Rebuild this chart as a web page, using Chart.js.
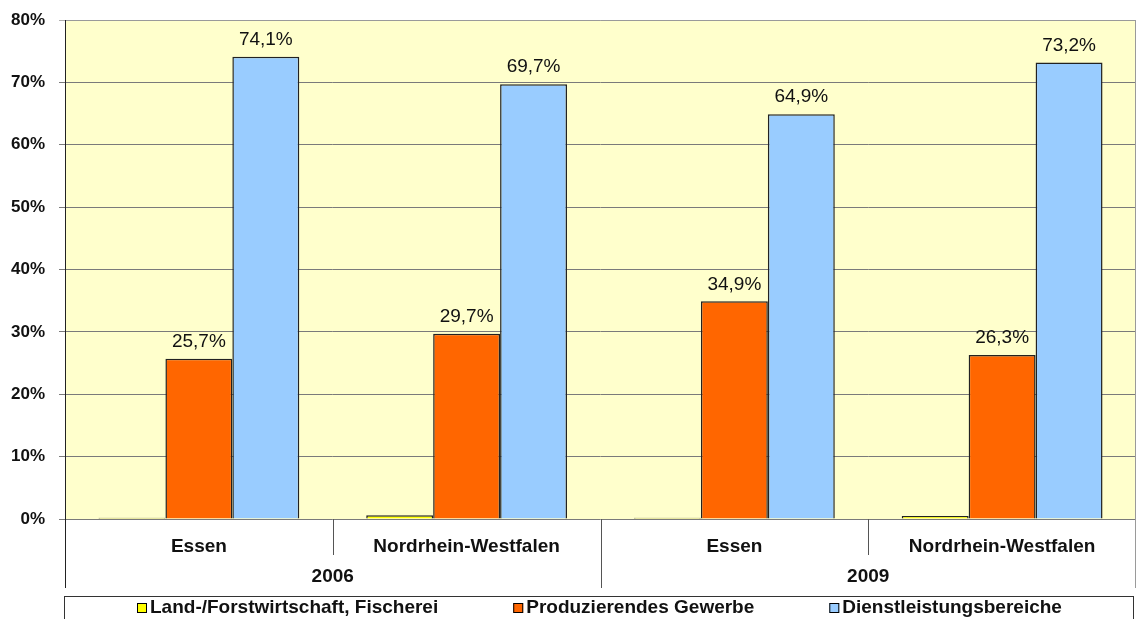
<!DOCTYPE html>
<html>
<head>
<meta charset="utf-8">
<script src="https://cdn.jsdelivr.net/npm/chart.js@4.4.1/dist/chart.umd.min.js"></script>
<style>
  html, body { margin: 0; padding: 0; background: #fff; overflow: hidden; }
  #wrap { width: 1138px; height: 619px; }
</style>
</head>
<body>
<div id="wrap"><canvas id="chart"></canvas></div>
<script>
// Erwerbstätige nach Wirtschaftsbereichen
var regions = ['Essen', 'Nordrhein-Westfalen', 'Essen', 'Nordrhein-Westfalen'];
var years = ['2006', '2009'];
var landwirtschaft = [0.2, 0.6, 0.2, 0.5];
var gewerbe = [25.7, 29.7, 34.9, 26.3];
var dienstleistung = [74.1, 69.7, 64.9, 73.2];
var yTicks = [0, 10, 20, 30, 40, 50, 60, 70, 80];

var FONT = '"Liberation Sans", Arial, sans-serif';

function pct(v) {
  return v.toFixed(1).replace('.', ',') + '%';
}

// gelber Hintergrund der Zeichenfläche
var plotBackground = {
  id: 'plotBackground',
  beforeDraw: function(chart) {
    var a = chart.chartArea, ctx = chart.ctx;
    ctx.save();
    ctx.fillStyle = '#FFFFCC';
    ctx.fillRect(a.left, a.top, a.right - a.left, a.bottom - a.top);
    ctx.restore();
  }
};

// Werte über den Säulen
var valueLabels = {
  id: 'valueLabels',
  afterDatasetsDraw: function(chart) {
    var ctx = chart.ctx;
    ctx.save();
    ctx.font = '19px ' + FONT;
    ctx.fillStyle = '#111';
    ctx.textAlign = 'center';
    ctx.textBaseline = 'middle';
    chart.data.datasets.forEach(function(ds, i) {
      if (!ds.showValues) return;
      chart.getDatasetMeta(i).data.forEach(function(bar, j) {
        ctx.fillText(pct(ds.data[j]), bar.x, bar.y - 17);
      });
    });
    ctx.restore();
  }
};

// zweizeilige Achsenbeschriftung (Region / Jahr) mit Trennstrichen, Rahmen und Legende
var axisAndLegend = {
  id: 'axisAndLegend',
  afterDraw: function(chart) {
    var ctx = chart.ctx, a = chart.chartArea, x = chart.scales.x;
    var step = (a.right - a.left) / regions.length;
    ctx.save();

    // Rahmen oben / rechts
    ctx.strokeStyle = '#9a9a9a';
    ctx.lineWidth = 1;
    ctx.beginPath();
    ctx.moveTo(a.left, a.top + 0.5);
    ctx.lineTo(a.right, a.top + 0.5);
    ctx.moveTo(a.right - 0.5, a.top);
    ctx.lineTo(a.right - 0.5, a.bottom + 69);
    ctx.stroke();

    // Trennstriche unter der Achse
    ctx.strokeStyle = '#555';
    ctx.beginPath();
    for (var i = 1; i < regions.length; i++) {
      var sx = Math.round(a.left + step * i) + 0.5;
      var long = (i % 2 === 0);
      ctx.moveTo(sx, a.bottom);
      ctx.lineTo(sx, a.bottom + (long ? 69 : 36));
    }
    ctx.stroke();

    // linke Achse
    ctx.strokeStyle = '#222';
    ctx.beginPath();
    ctx.moveTo(a.left + 0.5, a.top);
    ctx.lineTo(a.left + 0.5, a.bottom + 69);
    ctx.stroke();

    // Jahre
    ctx.font = 'bold 19px ' + FONT;
    ctx.fillStyle = '#111';
    ctx.textAlign = 'center';
    ctx.textBaseline = 'middle';
    years.forEach(function(y, k) {
      var cx = (x.getPixelForValue(k * 2) + x.getPixelForValue(k * 2 + 1)) / 2;
      ctx.fillText(y, cx, a.bottom + 58);
    });

    // Legende
    var boxLeft = 64.5, boxRight = 1133.5, boxTop = 596.5;
    ctx.strokeStyle = '#333';
    ctx.strokeRect(boxLeft, boxTop, boxRight - boxLeft, 40);
    var items = chart.data.datasets;
    var gap = 75, sq = 10, sqGap = 3;
    var widths = items.map(function(ds) { return sq + sqGap + ctx.measureText(ds.label).width; });
    var total = widths.reduce(function(s, w) { return s + w; }, 0) + gap * (items.length - 1);
    var lx = Math.round((boxLeft + boxRight) / 2 - total / 2);
    var ly = 608;
    ctx.textAlign = 'left';
    items.forEach(function(ds, k) {
      ctx.fillStyle = ds.backgroundColor;
      ctx.fillRect(lx, ly - sq / 2, sq, sq);
      ctx.strokeStyle = '#000';
      ctx.strokeRect(lx + 0.5, ly - sq / 2 + 0.5, sq - 1, sq - 1);
      ctx.fillStyle = '#111';
      ctx.fillText(ds.label, lx + sq + sqGap, ly);
      lx += widths[k] + gap;
    });
    ctx.restore();
  }
};

new Chart(document.getElementById('chart'), {
  type: 'bar',
  data: {
    labels: regions,
    datasets: [
      { label: 'Land-/Forstwirtschaft, Fischerei', data: landwirtschaft, backgroundColor: '#FFFF00', showValues: false },
      { label: 'Produzierendes Gewerbe', data: gewerbe, backgroundColor: '#FF6600', showValues: true },
      { label: 'Dienstleistungsbereiche', data: dienstleistung, backgroundColor: '#99CCFF', showValues: true }
    ]
  },
  options: {
    responsive: true,
    maintainAspectRatio: false,
    animation: false,
    layout: { padding: { top: 20, right: 2, left: 0, bottom: 31 } },
    datasets: {
      bar: {
        borderColor: '#222',
        borderWidth: 1.5,
        categoryPercentage: 0.75,
        barPercentage: 1
      }
    },
    plugins: {
      legend: { display: false },
      tooltip: { enabled: false }
    },
    scales: {
      x: {
        grid: { display: false, drawTicks: false },
        border: { display: false },
        ticks: {
          padding: 16,
          color: '#111',
          font: { family: FONT, size: 19, weight: 'bold' },
          maxRotation: 0
        },
        afterFit: function(s) { s.height = 69; }
      },
      y: {
        min: 0,
        max: 80,
        afterBuildTicks: function(s) {
          s.ticks = yTicks.map(function(v) { return { value: v }; });
        },
        grid: {
          color: function(c) { return c.tick && c.tick.value === 80 ? '#b0b0b0' : '#7a7a7a'; },
          tickLength: 6
        },
        border: { display: false },
        ticks: {
          padding: 14,
          color: '#111',
          font: { family: FONT, size: 17, weight: 'bold' },
          callback: function(v) { return v + '%'; }
        },
        afterFit: function(s) {
          s.width = 65;
          s.paddingTop = 0;
          s.paddingBottom = 0;
        }
      }
    }
  },
  plugins: [plotBackground, valueLabels, axisAndLegend]
});
</script>
</body>
</html>
